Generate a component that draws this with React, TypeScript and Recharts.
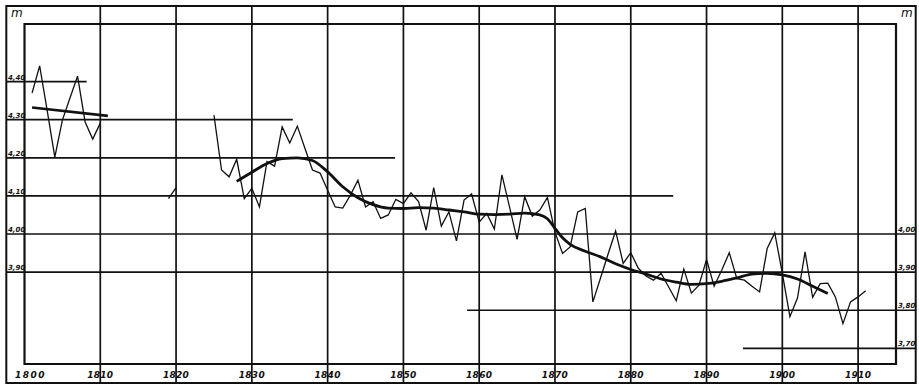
import { LineChart, Line, XAxis, YAxis, ReferenceLine, ReferenceArea } from "recharts";

// yearly mean water level (m)
const earlyYears = [1801, 1802, 1803, 1804, 1805, 1806, 1807, 1808, 1809, 1810];
const earlyLevels = [4.37, 4.441, 4.323, 4.202, 4.299, 4.357, 4.414, 4.294, 4.249, 4.291];

const stubYears = [1819, 1820];
const stubLevels = [4.093, 4.122];

const mainStart = 1825;
const mainLevels = [
  4.312, 4.168, 4.15, 4.196, 4.093, 4.12, 4.071, 4.19, 4.178, 4.281, // 1825-1834
  4.239, 4.283, 4.225, 4.168, 4.16, 4.115, 4.071, 4.068, 4.102, 4.141, // 1835-1844
  4.071, 4.085, 4.041, 4.05, 4.091, 4.08, 4.108, 4.085, 4.01, 4.122, // 1845-1854
  4.021, 4.058, 3.982, 4.089, 4.105, 4.031, 4.054, 4.013, 4.155, 4.071, // 1855-1864
  3.986, 4.098, 4.047, 4.063, 4.096, 4.005, 3.949, 3.966, 4.058, 4.067, // 1865-1874
  3.822, 3.884, 3.947, 4.008, 3.923, 3.951, 3.91, 3.89, 3.879, 3.897, // 1875-1884
  3.861, 3.825, 3.908, 3.845, 3.866, 3.933, 3.863, 3.905, 3.951, 3.883, // 1885-1894
  3.879, 3.863, 3.848, 3.962, 4.003, 3.897, 3.783, 3.832, 3.953, 3.834, // 1895-1904
  3.87, 3.871, 3.835, 3.765, 3.822, 3.835, 3.851, // 1905-1911
];

// straight mean 1801-1811
const earlyMeanYears = [1801, 1811];
const earlyMeanLevels = [4.332, 4.31];

// smoothed curve
const smoothYears = [
  1828, 1830, 1832, 1834, 1836, 1838, 1840, 1842, 1844, 1846, 1848, 1850, 1852, 1854, 1856,
  1858, 1860, 1862, 1864, 1866, 1868, 1869, 1870, 1871, 1872, 1874, 1876, 1878, 1880, 1882,
  1884, 1886, 1888, 1890, 1892, 1894, 1896, 1898, 1900, 1902, 1904, 1906,
];
const smoothLevels = [
  4.138, 4.162, 4.185, 4.198, 4.2, 4.193, 4.163, 4.124, 4.095, 4.077, 4.068, 4.067, 4.069, 4.068, 4.063,
  4.058, 4.052, 4.051, 4.052, 4.055, 4.05, 4.04, 4.015, 3.99, 3.973, 3.955, 3.94, 3.922, 3.907, 3.895,
  3.882, 3.874, 3.868, 3.87, 3.876, 3.885, 3.895, 3.897, 3.893, 3.882, 3.863, 3.844,
];

const decadeTicks = [1800, 1810, 1820, 1830, 1840, 1850, 1860, 1870, 1880, 1890, 1900, 1910];
const leftTicks = [3.9, 4.0, 4.1, 4.2, 4.3, 4.4];
const rightTicks = [3.7, 3.8, 3.9, 4.0];

// horizontal rules on the plate: level, start year, end year
const ruleLevels = [4.4, 4.3, 4.2, 4.1, 4.0, 3.9, 3.8, 3.7];
const ruleFrom = [1797.6, 1797.6, 1797.6, 1797.6, 1797.6, 1797.6, 1858.4, 1894.8];
const ruleTo = [1808.2, 1835.4, 1848.9, 1885.6, 1917.6, 1917.6, 1917.6, 1917.6];

const X_DOMAIN = [1800, 1915];
const Y_DOMAIN = [3.659, 4.551];
const OUTER_X = [1797.6, 1917.6];
const OUTER_Y = [3.609, 4.598];

const ink = "#111";
const font = "'DejaVu Sans', sans-serif";

const early = earlyYears.map((year, i) => ({ year, level: earlyLevels[i] }));
const stub = stubYears.map((year, i) => ({ year, level: stubLevels[i] }));
const main = mainLevels.map((level, i) => ({ year: mainStart + i, level }));
const earlyMean = earlyMeanYears.map((year, i) => ({ year, level: earlyMeanLevels[i] }));
const smooth = smoothYears.map((year, i) => ({ year, level: smoothLevels[i] }));

const fmt = (v: number) => v.toFixed(2).replace(".", ",");

function YearTick({ x, y, payload }: any) {
  const first = payload.value === decadeTicks[0];
  return (
    <text
      x={x + (first ? 6 : 0)}
      y={y + 14}
      textAnchor="middle"
      fontFamily={font}
      fontSize={9}
      fontStyle="italic"
      fontWeight="bold"
      letterSpacing={first ? 1.5 : 0.3}
      fill={ink}
    >
      {payload.value}
    </text>
  );
}

function LeftTick({ y, payload }: any) {
  return (
    <text x={8} y={y - 2} fontFamily={font} fontSize={7} fontStyle="italic" fontWeight="bold" fill={ink}>
      {fmt(payload.value)}
    </text>
  );
}

function RightTick({ x, y, payload }: any) {
  return (
    <text x={x + 2} y={y - 2} fontFamily={font} fontSize={7} fontStyle="italic" fontWeight="bold" fill={ink}>
      {fmt(payload.value)}
    </text>
  );
}

export default function App() {
  return (
    <div style={{ position: "absolute", left: 0, top: 0, width: 919, height: 386, background: "#fff" }}>
      <LineChart width={919} height={386} margin={{ top: 24, right: 0, bottom: 0, left: 0 }}>
        <XAxis
          type="number"
          dataKey="year"
          domain={X_DOMAIN}
          ticks={decadeTicks}
          interval={0}
          height={22}
          axisLine={false}
          tickLine={false}
          tickSize={0}
          tickMargin={0}
          tick={<YearTick />}
        />
        <YAxis
          yAxisId="l"
          type="number"
          domain={Y_DOMAIN}
          ticks={leftTicks}
          width={24.5}
          axisLine={false}
          tickLine={false}
          tickSize={0}
          tickMargin={0}
          tick={<LeftTick />}
        />
        <YAxis
          yAxisId="r"
          orientation="right"
          type="number"
          domain={Y_DOMAIN}
          ticks={rightTicks}
          width={23}
          axisLine={false}
          tickLine={false}
          tickSize={0}
          tickMargin={0}
          tick={<RightTick />}
        />

        {ruleLevels.map((v, i) => (
          <ReferenceLine
            key={"h" + v}
            yAxisId="l"
            segment={[{ x: ruleFrom[i], y: v }, { x: ruleTo[i], y: v }]}
            stroke={ink}
            strokeWidth={1.7}
            ifOverflow="visible"
          />
        ))}
        {decadeTicks.slice(1).map((yr) => (
          <ReferenceLine
            key={"v" + yr}
            yAxisId="l"
            segment={[{ x: yr, y: OUTER_Y[0] }, { x: yr, y: OUTER_Y[1] }]}
            stroke={ink}
            strokeWidth={1.7}
            ifOverflow="visible"
          />
        ))}
        <ReferenceArea
          yAxisId="l"
          x1={X_DOMAIN[0]}
          x2={X_DOMAIN[1]}
          y1={Y_DOMAIN[0]}
          y2={Y_DOMAIN[1]}
          fill="none"
          fillOpacity={0}
          stroke={ink}
          strokeWidth={2.2}
          ifOverflow="visible"
        />
        <ReferenceArea
          yAxisId="l"
          x1={OUTER_X[0]}
          x2={OUTER_X[1]}
          y1={OUTER_Y[0]}
          y2={OUTER_Y[1]}
          fill="none"
          fillOpacity={0}
          stroke={ink}
          strokeWidth={2}
          ifOverflow="visible"
        />

        <Line yAxisId="l" data={early} dataKey="level" type="linear" stroke={ink} strokeWidth={1.3} dot={false} isAnimationActive={false} />
        <Line yAxisId="l" data={stub} dataKey="level" type="linear" stroke={ink} strokeWidth={1.3} dot={false} isAnimationActive={false} />
        {/* same domain on both sides, so the main series can sit on the right axis */}
        <Line yAxisId="r" data={main} dataKey="level" type="linear" stroke={ink} strokeWidth={1.3} dot={false} isAnimationActive={false} />
        <Line yAxisId="l" data={earlyMean} dataKey="level" type="linear" stroke={ink} strokeWidth={2.6} dot={false} isAnimationActive={false} />
        <Line yAxisId="l" data={smooth} dataKey="level" type="monotone" stroke={ink} strokeWidth={2.8} dot={false} isAnimationActive={false} />
      </LineChart>
      <span style={{ position: "absolute", left: 11, top: 6, fontFamily: font, fontSize: 12, fontStyle: "italic", color: ink }}>m</span>
      <span style={{ position: "absolute", left: 901, top: 6, fontFamily: font, fontSize: 12, fontStyle: "italic", color: ink }}>m</span>
    </div>
  );
}
